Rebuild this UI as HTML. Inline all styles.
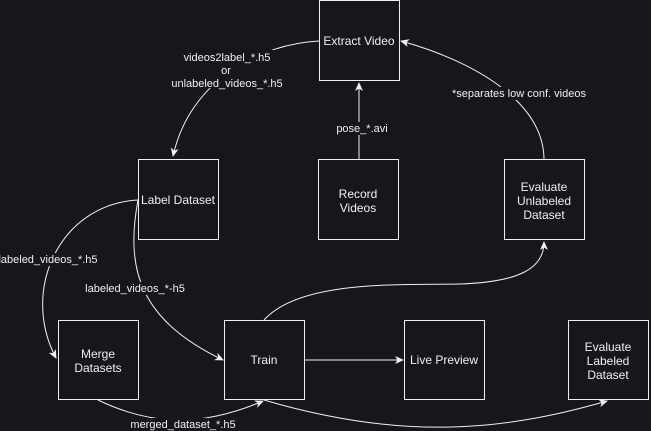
<!DOCTYPE html>
<html><head><style>
html,body{margin:0;padding:0;background:#18161c;overflow:hidden;}
svg{display:block;font-family:"Liberation Sans",Arial,sans-serif;}
</style></head><body>
<svg width="651" height="431" viewBox="0 0 651 431">
<defs><marker id="a" markerWidth="10" markerHeight="10" refX="8" refY="5" orient="auto" markerUnits="userSpaceOnUse"><path d="M0,1 L9,5 L0,9 L2.5,5 Z" fill="#f0f0f0"/></marker></defs>
<rect width="651" height="431" fill="#18161c"/>
<g fill="none" stroke="#f0f0f0" stroke-width="1">
<path d="M319,41 C260,44 190,80 173,156" marker-end="url(#a)"/>
<path d="M359,160 L359,83" marker-end="url(#a)"/>
<path d="M544,160 C544,100 470,60 401,41" marker-end="url(#a)"/>
<path d="M138,200 C60,204 20,290 56,358" marker-end="url(#a)"/>
<path d="M138,200 C125,270 140,320 223,360" marker-end="url(#a)"/>
<path d="M98,400 C150,425 200,428 263,401" marker-end="url(#a)"/>
<path d="M264,320 C300,280 400,285 460,284 C520,282 544,268 544,242" marker-end="url(#a)"/>
<path d="M304,360 L403,360" marker-end="url(#a)"/>
<path d="M264,400 C400,440 500,432 607,401" marker-end="url(#a)"/>
</g>
<g fill="#18161c" stroke="#f0f0f0" stroke-width="1">
<rect x="319.5" y="0.5" width="80" height="80"/>
<rect x="138.5" y="159.5" width="80" height="80"/>
<rect x="318.5" y="159.5" width="80" height="80"/>
<rect x="504.5" y="159.5" width="80" height="80"/>
<rect x="58.5" y="320.5" width="80" height="79"/>
<rect x="224.5" y="320.5" width="80" height="79"/>
<rect x="404.5" y="320.5" width="80" height="79"/>
<rect x="568.5" y="320.5" width="80" height="79"/>
</g>
<g fill="#f0f0f0" font-size="12" text-anchor="middle">
<text x="359" y="45">Extract Video</text>
<text x="178" y="204">Label Dataset</text>
<text x="358" y="198">Record</text><text x="358" y="212">Videos</text>
<text x="544" y="191">Evaluate</text><text x="544" y="205">Unlabeled</text><text x="544" y="219">Dataset</text>
<text x="98" y="358">Merge</text><text x="98" y="372">Datasets</text>
<text x="264" y="364">Train</text>
<text x="444" y="364">Live Preview</text>
<text x="608" y="351">Evaluate</text><text x="608" y="365">Labeled</text><text x="608" y="379">Dataset</text>
</g>
<g font-size="11" text-anchor="middle">
<rect x="170" y="50" width="114" height="38" fill="#18161c"/>
<rect x="334" y="122" width="52" height="13" fill="#18161c"/>
<rect x="450" y="87" width="138" height="13" fill="#18161c"/>
<rect x="0" y="253" width="100" height="13" fill="#18161c"/>
<rect x="85" y="282" width="101" height="13" fill="#18161c"/>
<rect x="130" y="418" width="108" height="13" fill="#18161c"/>
<g fill="#f0f0f0">
<text x="227" y="61">videos2label_*.h5</text>
<text x="226" y="74">or</text>
<text x="227" y="87">unlabeled_videos_*.h5</text>
<text x="362" y="132">pose_*.avi</text>
<text x="519" y="97">*separates low conf. videos</text>
<text x="48" y="263">labeled_videos_*.h5</text>
<text x="135" y="292">labeled_videos_*-h5</text>
<text x="183" y="428">merged_dataset_*.h5</text>
</g></g>
</svg>
</body></html>
